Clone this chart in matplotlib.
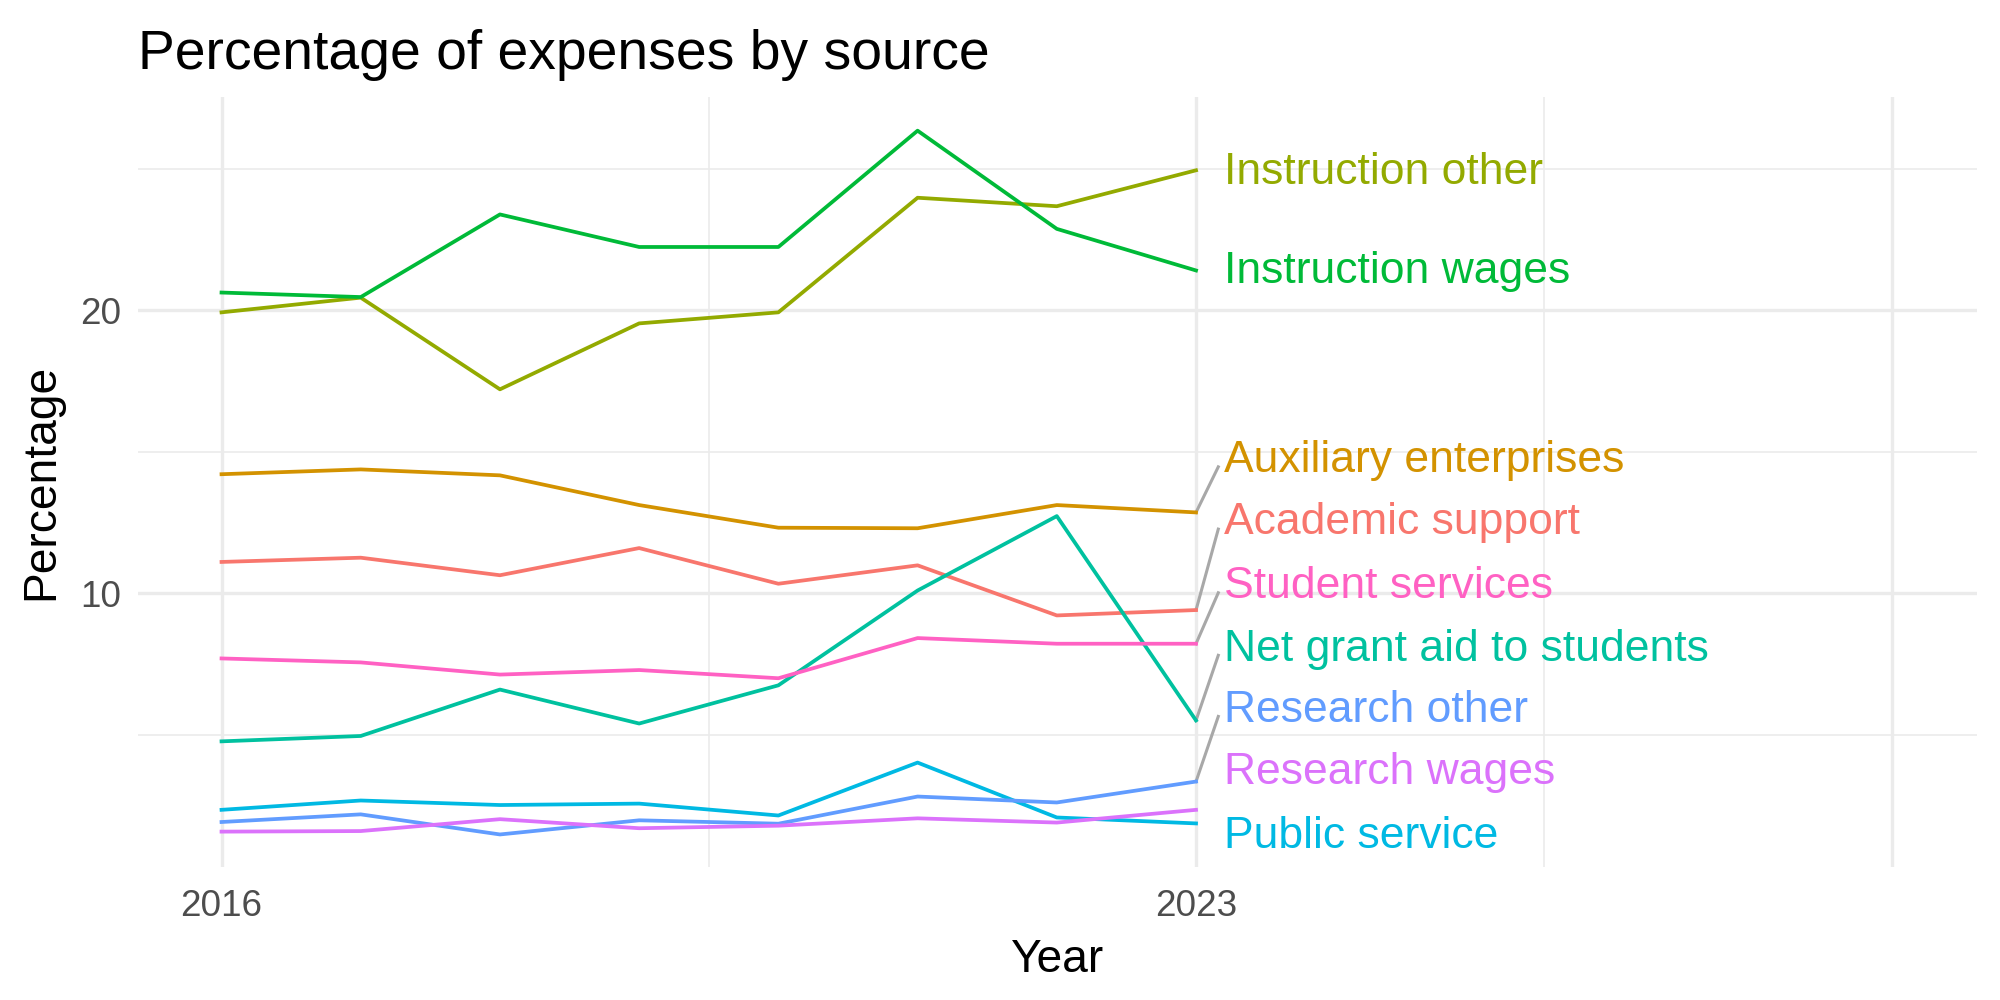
import numpy as np
import matplotlib
matplotlib.use("Agg")
import matplotlib.pyplot as plt

plt.rcParams["font.family"] = ["Liberation Sans", "DejaVu Sans"]

years = [2016, 2017, 2018, 2019, 2020, 2021, 2022, 2023]

academic_support = [11.10, 11.25, 10.63, 11.59, 10.33, 10.98, 9.21, 9.40]
auxiliary_enterprises = [14.20, 14.37, 14.16, 13.11, 12.31, 12.29, 13.11, 12.85]
instruction_other = [19.92, 20.44, 17.20, 19.53, 19.92, 23.97, 23.67, 24.94]
instruction_wages = [20.62, 20.46, 23.38, 22.23, 22.23, 26.34, 22.87, 21.40]
net_grant_aid = [4.76, 4.95, 6.59, 5.39, 6.74, 10.09, 12.72, 5.50]
public_service = [2.34, 2.67, 2.51, 2.56, 2.14, 4.01, 2.07, 1.86]
research_other = [1.91, 2.18, 1.47, 1.97, 1.85, 2.81, 2.60, 3.34]
research_wages = [1.57, 1.59, 2.01, 1.69, 1.78, 2.04, 1.89, 2.34]
student_services = [7.69, 7.55, 7.12, 7.28, 6.99, 8.41, 8.21, 8.21]

sources = ["Academic support", "Auxiliary enterprises", "Instruction other",
           "Instruction wages", "Net grant aid to students", "Public service",
           "Research other", "Research wages", "Student services"]
series = [academic_support, auxiliary_enterprises, instruction_other,
          instruction_wages, net_grant_aid, public_service,
          research_other, research_wages, student_services]
colors = ["#F8766D", "#D39200", "#93AA00", "#00BA38", "#00C19F",
          "#00B9E3", "#619CFF", "#DB72FB", "#FF61C3"]

# where the repelled labels ended up (y of label centre)
label_y = [12.48, 14.68, 24.86, 21.35, 8.02, 1.40, 5.86, 3.65, 10.23]
has_segment = [True, True, False, False, True, False, True, False, True]

fig = plt.figure(figsize=(10, 5), dpi=200)
ax = fig.add_axes([0.069, 0.133, 0.9195, 0.770])

xmin, xmax = 2015.40, 2028.61
ymin, ymax = 0.32, 27.53

# grid like theme_minimal
grid_c = "#EBEBEB"
for x in [2016, 2023, 2028]:
    ax.axvline(x, color=grid_c, lw=1.2, zorder=0)
for x in [2019.5, 2025.5]:
    ax.axvline(x, color=grid_c, lw=0.6, zorder=0)
for y in [10, 20]:
    ax.axhline(y, color=grid_c, lw=1.2, zorder=0)
for y in [5, 15, 25]:
    ax.axhline(y, color=grid_c, lw=0.6, zorder=0)

for name, vals, col, ly, seg in zip(sources, series, colors, label_y, has_segment):
    ax.plot(years, vals, color=col, lw=1.35, zorder=3)
    if seg:
        ax.plot([years[-1], 2023.16], [vals[-1], ly - 0.22], color="#A8A8A8", lw=1.1, zorder=2)
    ax.text(2023.2, ly, name, color=col, fontsize=16.0, ha="left", va="center", zorder=4)

ax.set_xlim(xmin, xmax)
ax.set_ylim(ymin, ymax)
ax.set_xticks([2016, 2023])
ax.set_xticklabels(["2016", "2023"])
ax.set_yticks([10, 20])
ax.tick_params(axis="x", length=0, labelsize=13.3, labelcolor="#4D4D4D", pad=8)
ax.tick_params(axis="y", length=0, labelsize=13.3, labelcolor="#4D4D4D", pad=6)
for s in ax.spines.values():
    s.set_visible(False)

ax.set_xlabel("Year", fontsize=16.6, labelpad=5)
ax.set_ylabel("Percentage", fontsize=16.6, labelpad=6)
ax.set_title("Percentage of expenses by source", fontsize=19.9, loc="left", pad=10)

fig.savefig("out.png", dpi=200)
